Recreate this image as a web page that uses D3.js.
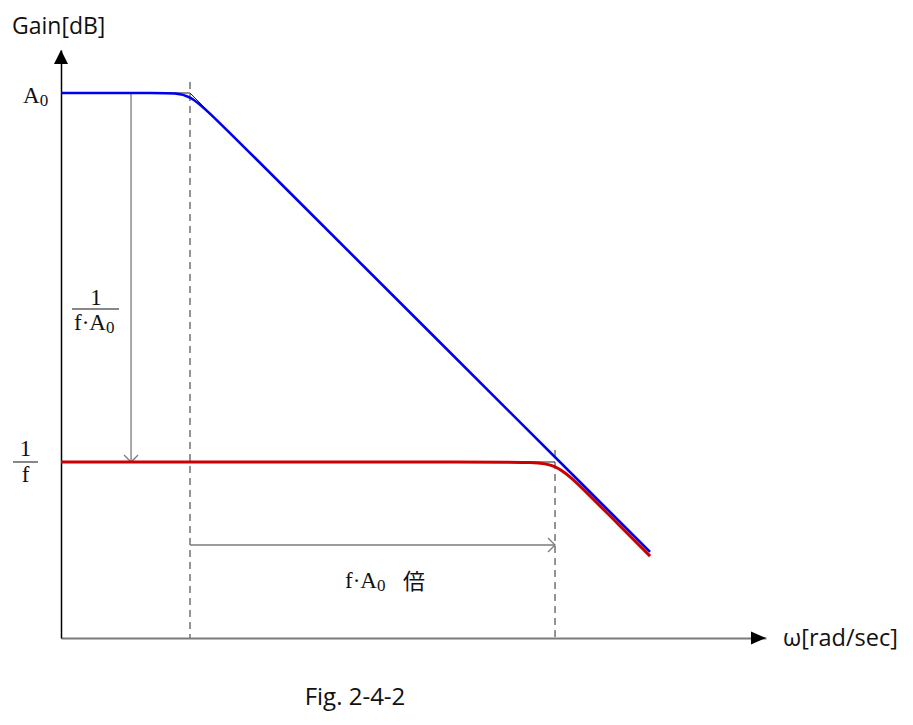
<!DOCTYPE html>
<html>
<head>
<meta charset="utf-8">
<script src="https://cdn.jsdelivr.net/npm/d3@7"></script>
<style>
  html, body { margin: 0; padding: 0; background: #fff; }
  svg { display: block; }
</style>
</head>
<body>
<svg id="chart" width="913" height="725"></svg>
<script>
// ---------- data ----------
// axis extents: omega [rad/sec] (log) and gain [dB]
const omegaDomain = [0.386, 2.05e7];
const gainDomain = [-18.16, 109.32];

// open-loop gain A(omega): control points of the curve
const openOmega = [0.386, 5, 10, 20, 1.1e6];
const openGain  = [100, 100, 100, 94.05, 0.5];

// closed-loop gain (1/f plateau)
const closedOmega = [0.386, 4.5e4, 1e5, 2.1e5, 1.1e6];
const closedGain  = [20, 20, 20, 13.9, -0.4];

// asymptote segments (thin black)
const asymOpenOmega = [5, 10, 20];
const asymOpenGain  = [100, 100, 94.05];
const asymClosedOmega = [5e4, 1e5];
const asymClosedGain  = [20, 20];

// key levels / frequencies
const A0 = 100;          // dB
const invF = 20;         // dB  (1/f)
const wPole = 10;        // open-loop pole
const wClosed = 1e5;     // closed-loop corner (f·A0 times)
const wDiffArrow = 2.26; // position of vertical 1/(f·A0) arrow
const gainSpanArrow = 2.0; // level of the horizontal f·A0 arrow
const dashTop = [102.4, 22.6]; // top of dashed guides

// ---------- drawing ----------
const svg = d3.select("#chart");
svg.append("rect").attr("width", 913).attr("height", 725).attr("fill", "#fff");

const x = d3.scaleLog().domain(omegaDomain).range([61, 766]);
const y = d3.scaleLinear().domain(gainDomain).range([638, 50]);

const gray = "#7a7a7a";
const sans = "'Open Sans', 'Noto Sans', sans-serif";
const serif = "'Liberation Serif', 'DejaVu Serif', serif";

// axes (no ticks) via d3 axis generators
const xAxis = svg.append("g").attr("transform", `translate(0,${y(gainDomain[0])})`)
  .call(d3.axisBottom(x).tickValues([]).tickSizeOuter(0));
xAxis.select(".domain").attr("stroke", gray).attr("stroke-width", 2);

const yAxis = svg.append("g").attr("transform", `translate(${x(omegaDomain[0])},0)`)
  .call(d3.axisLeft(y).tickValues([]).tickSizeOuter(0));
yAxis.select(".domain").attr("stroke", "#000").attr("stroke-width", 1.5);

// arrow heads
const x0 = x(omegaDomain[0]), xEnd = x(omegaDomain[1]);
const y0 = y(gainDomain[0]), yTop = y(gainDomain[1]);
svg.append("path")
  .attr("d", `M${xEnd},${y0} L${xEnd - 15},${y0 - 6.5} L${xEnd - 15},${y0 + 6.5} Z`)
  .attr("fill", "#000");
svg.append("path")
  .attr("d", `M${x0},${yTop} L${x0 - 7},${yTop + 14} L${x0 + 7},${yTop + 14} Z`)
  .attr("fill", "#000");

// dashed guides
[wPole, wClosed].forEach((w, i) => {
  svg.append("line")
    .attr("x1", x(w)).attr("x2", x(w))
    .attr("y1", y(dashTop[i])).attr("y2", y0)
    .attr("stroke", gray).attr("stroke-width", 1.6)
    .attr("stroke-dasharray", "7,5");
});

// vertical arrow 1/(f·A0)
const vx = x(wDiffArrow);
svg.append("line").attr("x1", vx).attr("x2", vx)
  .attr("y1", y(A0)).attr("y2", y(invF))
  .attr("stroke", gray).attr("stroke-width", 1.3);
svg.append("path")
  .attr("d", `M${vx - 7},${y(invF) - 7} L${vx},${y(invF)} L${vx + 7},${y(invF) - 7}`)
  .attr("fill", "none").attr("stroke", gray).attr("stroke-width", 1.3);

// horizontal arrow f·A0
const hy = y(gainSpanArrow);
svg.append("line").attr("x1", x(wPole)).attr("x2", x(wClosed))
  .attr("y1", hy).attr("y2", hy)
  .attr("stroke", gray).attr("stroke-width", 1.3);
svg.append("path")
  .attr("d", `M${x(wClosed) - 7},${hy - 7} L${x(wClosed)},${hy} L${x(wClosed) - 7},${hy + 7}`)
  .attr("fill", "none").attr("stroke", gray).attr("stroke-width", 1.3);

// thin asymptotes
const thin = d3.line().x(d => x(d[0])).y(d => y(d[1]));
svg.append("path").attr("d", thin(d3.zip(asymOpenOmega, asymOpenGain)))
  .attr("fill", "none").attr("stroke", "#222").attr("stroke-width", 1);
svg.append("path").attr("d", thin(d3.zip(asymClosedOmega, asymClosedGain)))
  .attr("fill", "none").attr("stroke", "#222").attr("stroke-width", 1);

// curves
const curve = d3.line().x(d => x(d[0])).y(d => y(d[1])).curve(d3.curveBasis);
svg.append("path").attr("d", curve(d3.zip(closedOmega, closedGain)))
  .attr("fill", "none").attr("stroke", "#cc0000").attr("stroke-width", 3);
svg.append("path").attr("d", curve(d3.zip(openOmega, openGain)))
  .attr("fill", "none").attr("stroke", "#0000ee").attr("stroke-width", 2.6);

// ---------- text ----------
svg.append("text").attr("x", 12).attr("y", 34)
  .attr("font-family", sans).attr("font-size", 23).attr("fill", "#111")
  .text("Gain[dB]");

svg.append("text").attr("x", 783).attr("y", y0 + 8)
  .attr("font-family", sans).attr("font-size", 23.5).attr("fill", "#111")
  .text("ω[rad/sec]");

svg.append("text").attr("x", 355).attr("y", 705).attr("text-anchor", "middle")
  .attr("font-family", sans).attr("font-size", 24).attr("fill", "#111")
  .text("Fig. 2-4-2");

// A0 label
const tA = svg.append("text").attr("x", 23).attr("y", y(A0) + 10)
  .attr("font-family", serif).attr("font-size", 23).attr("fill", "#111");
tA.append("tspan").text("A");
tA.append("tspan").attr("font-size", 17).attr("dy", 3).text("0");

// 1/f label
svg.append("text").attr("x", 25.5).attr("y", y(invF) - 6).attr("text-anchor", "middle")
  .attr("font-family", serif).attr("font-size", 23).attr("fill", "#111").text("1");
svg.append("line").attr("x1", 13).attr("x2", 38).attr("y1", y(invF)).attr("y2", y(invF))
  .attr("stroke", "#111").attr("stroke-width", 1);
svg.append("text").attr("x", 25.5).attr("y", y(invF) + 20).attr("text-anchor", "middle")
  .attr("font-family", serif).attr("font-size", 23).attr("fill", "#111").text("f");

// 1/(f·A0) label
svg.append("text").attr("x", 96).attr("y", 305).attr("text-anchor", "middle")
  .attr("font-family", serif).attr("font-size", 23).attr("fill", "#111").text("1");
svg.append("line").attr("x1", 72).attr("x2", 119).attr("y1", 309).attr("y2", 309)
  .attr("stroke", "#111").attr("stroke-width", 1);
const tF = svg.append("text").attr("x", 74).attr("y", 330)
  .attr("font-family", serif).attr("font-size", 23).attr("fill", "#111");
tF.append("tspan").text("f·A");
tF.append("tspan").attr("font-size", 17).attr("dy", 3).text("0");

// f·A0 倍 label
const tB = svg.append("text").attr("x", 345).attr("y", 588)
  .attr("font-family", serif).attr("font-size", 23).attr("fill", "#111");
tB.append("tspan").text("f·A");
tB.append("tspan").attr("font-size", 17).attr("dy", 3).text("0");
svg.append("text").attr("x", 403).attr("y", 589)
  .attr("font-family", "'Noto Sans CJK JP', sans-serif").attr("font-size", 22).attr("fill", "#111")
  .text("倍");
</script>
</body>
</html>
